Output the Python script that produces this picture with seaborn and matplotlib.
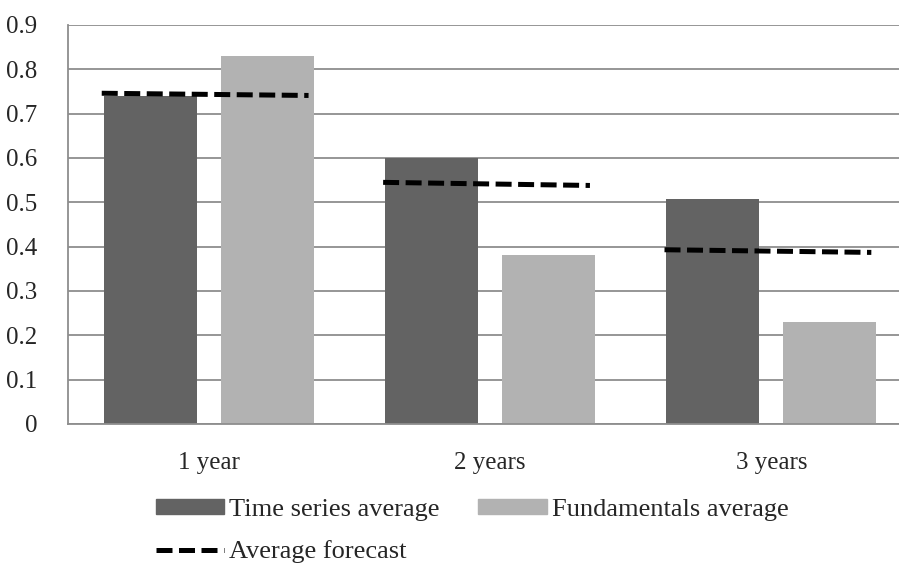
import numpy as np
import pandas as pd
import seaborn as sns
import matplotlib.pyplot as plt
from matplotlib.patches import Patch
from matplotlib.lines import Line2D

# data
horizons = ["1 year", "2 years", "3 years"]
time_series_avg = [0.739, 0.600, 0.507]
fundamentals_avg = [0.831, 0.381, 0.229]
forecast_start = [0.746, 0.545, 0.393]
forecast_end = [0.741, 0.538, 0.387]
series_names = ["Time series average", "Fundamentals average"]
line_name = "Average forecast"
y_ticks = [0, 0.1, 0.2, 0.3, 0.4, 0.5, 0.6, 0.7, 0.8, 0.9]
y_labels = ["0", "0.1", "0.2", "0.3", "0.4", "0.5", "0.6", "0.7", "0.8", "0.9"]

dark = "#636363"
light = "#b2b2b2"
grid_col = "#8e8e8e"

sns.set_style("white")
plt.rcParams["font.family"] = ["Liberation Serif", "DejaVu Serif"]
plt.rcParams["font.size"] = 18

df = pd.DataFrame({
    "horizon": horizons * 2,
    "value": time_series_avg + fundamentals_avg,
    "series": [series_names[0]] * 3 + [series_names[1]] * 3,
})

fig = plt.figure(figsize=(8.99, 5.65), dpi=100)
ax = fig.add_axes([0.0756, 0.2496, 0.939, 0.7062])

sns.barplot(data=df, x="horizon", y="value", hue="series",
            palette=[dark, light], width=0.832, gap=0.205,
            edgecolor="none", legend=False, ax=ax, zorder=2)

# dashed forecast segment across each pair of bars
for i in range(len(horizons)):
    ax.plot([i - 0.38, i + 0.355], [forecast_start[i], forecast_end[i]],
            color="black", lw=3.6, linestyle=(0, (3.2, 1.3)), zorder=3)

ax.set_xlim(-0.5, 2.5)
ax.set_ylim(0, 0.9)
ax.set_yticks(y_ticks)
ax.set_yticklabels(y_labels)
ax.set_xlabel("")
ax.set_ylabel("")
ax.tick_params(axis="y", length=0, pad=22, labelsize=18)
ax.tick_params(axis="x", length=0, pad=20, labelsize=18)
ax.set_axisbelow(True)
ax.yaxis.grid(True, color=grid_col, lw=1.3)
ax.xaxis.grid(False)
for side in ["top", "right"]:
    ax.spines[side].set_visible(False)
for side in ["left", "bottom"]:
    ax.spines[side].set_color(grid_col)
    ax.spines[side].set_linewidth(1.3)

handles = [
    Patch(color=dark, label=series_names[0]),
    Line2D([0], [0], color="black", lw=3.6, linestyle=(0, (3.2, 1.3)),
           label=line_name),
    Patch(color=light, label=series_names[1]),
]
fig.legend(handles=handles, ncol=2, loc="center",
           bbox_to_anchor=(472 / 899, 1 - 531 / 565), frameon=False,
           fontsize=19, handlelength=2.6, handleheight=0.5,
           handletextpad=0.19, columnspacing=1.45, labelspacing=0.75,
           borderpad=0)

fig.savefig("out.png", dpi=100)
